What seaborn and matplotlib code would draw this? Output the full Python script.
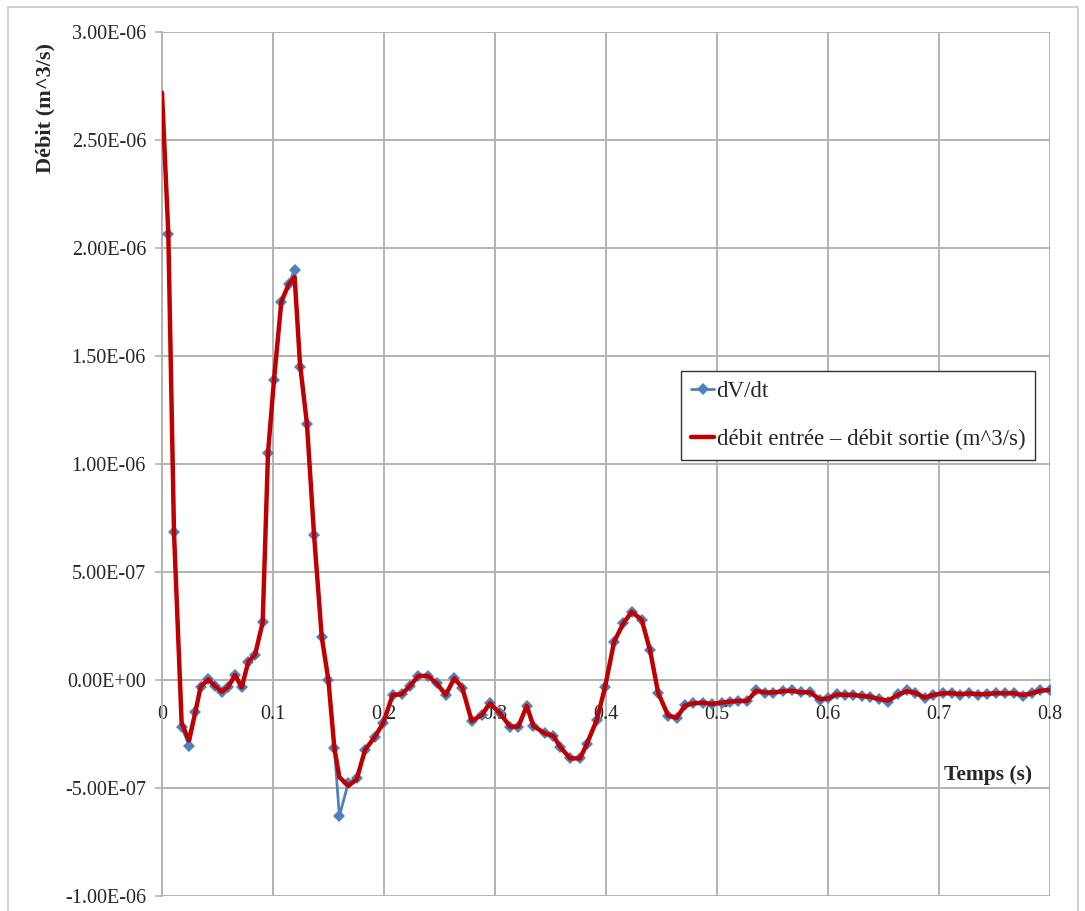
import numpy as np
import pandas as pd
import seaborn as sns
import matplotlib.pyplot as plt
from matplotlib.ticker import FuncFormatter, MultipleLocator
from matplotlib.patches import Rectangle

# dV/dt points (time in s, flow in 1e-6 m^3/s)
DVDT_TIME = [
    0.0057, 0.0108, 0.0177, 0.0243, 0.0300, 0.0348, 0.0417, 0.0478, 0.0538, 0.0598,
    0.0658, 0.0718, 0.0778, 0.0838, 0.0907, 0.0955, 0.1009, 0.1075, 0.1140, 0.1195,
    0.1243, 0.1306, 0.1370, 0.1439, 0.1499, 0.1553, 0.1598, 0.1679, 0.1754, 0.1829,
    0.1919, 0.1994, 0.2078, 0.2159, 0.2234, 0.2309, 0.2394, 0.2475, 0.2556, 0.2633,
    0.2705, 0.2790, 0.2880, 0.2955, 0.3045, 0.3136, 0.3210, 0.3286, 0.3346, 0.3450,
    0.3526, 0.3586, 0.3676, 0.3766, 0.3826, 0.3917, 0.3991, 0.4073, 0.4156, 0.4232,
    0.4322, 0.4397, 0.4470, 0.4560, 0.4637, 0.4712, 0.4787, 0.4877, 0.4952, 0.5042,
    0.5117, 0.5192, 0.5273, 0.5352, 0.5433, 0.5508, 0.5592, 0.5673, 0.5754, 0.5838,
    0.5928, 0.6003, 0.6078, 0.6153, 0.6228, 0.6303, 0.6378, 0.6462, 0.6543, 0.6633,
    0.6709, 0.6784, 0.6874, 0.6949, 0.7039, 0.7114, 0.7189, 0.7273, 0.7354, 0.7429,
    0.7513, 0.7594, 0.7675, 0.7753, 0.7834, 0.7910, 0.8000,
]
DVDT_FLOW = [
    2.066, 0.684, -0.216, -0.304, -0.150, -0.031, 0.003, -0.028, -0.054, -0.031,
    0.023, -0.034, 0.085, 0.116, 0.267, 1.051, 1.389, 1.751, 1.833, 1.900,
    1.449, 1.185, 0.671, 0.200, 0.000, -0.316, -0.630, -0.475, -0.455, -0.324,
    -0.262, -0.198, -0.069, -0.066, -0.028, 0.019, 0.019, -0.015, -0.069, 0.008,
    -0.035, -0.190, -0.162, -0.108, -0.154, -0.216, -0.216, -0.120, -0.213, -0.247,
    -0.259, -0.309, -0.363, -0.363, -0.298, -0.185, -0.034, 0.177, 0.262, 0.316,
    0.278, 0.137, -0.060, -0.165, -0.175, -0.118, -0.108, -0.105, -0.111, -0.105,
    -0.100, -0.097, -0.097, -0.046, -0.062, -0.062, -0.049, -0.046, -0.057, -0.057,
    -0.093, -0.085, -0.065, -0.069, -0.069, -0.074, -0.077, -0.089, -0.100, -0.065,
    -0.046, -0.059, -0.085, -0.069, -0.062, -0.059, -0.069, -0.059, -0.069, -0.065,
    -0.059, -0.062, -0.059, -0.074, -0.062, -0.046, -0.046,
]

# débit entrée - débit sortie (same sampling + t=0)
BALANCE_TIME = [0.0] + DVDT_TIME
BALANCE_FLOW = [
    2.720,
    2.066, 0.684, -0.200, -0.280, -0.150, -0.031, 0.003, -0.028, -0.054, -0.031,
    0.023, -0.034, 0.085, 0.116, 0.267, 1.051, 1.389, 1.751, 1.830, 1.865,
    1.465, 1.185, 0.671, 0.200, 0.000, -0.316, -0.450, -0.490, -0.460, -0.324,
    -0.262, -0.198, -0.069, -0.066, -0.028, 0.019, 0.019, -0.015, -0.069, 0.008,
    -0.035, -0.190, -0.162, -0.108, -0.154, -0.216, -0.216, -0.120, -0.213, -0.247,
    -0.259, -0.309, -0.363, -0.363, -0.298, -0.185, -0.034, 0.177, 0.262, 0.316,
    0.278, 0.137, -0.060, -0.165, -0.175, -0.118, -0.108, -0.105, -0.111, -0.105,
    -0.100, -0.097, -0.097, -0.050, -0.058, -0.058, -0.052, -0.050, -0.057, -0.057,
    -0.090, -0.085, -0.067, -0.069, -0.069, -0.074, -0.077, -0.089, -0.095, -0.068,
    -0.052, -0.059, -0.082, -0.069, -0.062, -0.061, -0.066, -0.062, -0.066, -0.065,
    -0.061, -0.062, -0.061, -0.070, -0.062, -0.050, -0.046,
]

LABEL_DVDT = "dV/dt"
LABEL_BALANCE = "débit entrée – débit sortie (m^3/s)"

BLUE = "#4f81bd"
RED = "#c00000"
GRID = "#b3b3b3"

sns.set_style("whitegrid")
plt.rcParams["font.family"] = ["Liberation Serif", "DejaVu Serif"]

dvdt = pd.DataFrame({"t": DVDT_TIME, "q": np.array(DVDT_FLOW) * 1e-6})
bal = pd.DataFrame({"t": BALANCE_TIME, "q": np.array(BALANCE_FLOW) * 1e-6})

fig = plt.figure(figsize=(10.85, 9.11), dpi=100)
ax = fig.add_axes([162 / 1085, 1 - 896 / 911, 888 / 1085, 864 / 911])

sns.lineplot(data=dvdt, x="t", y="q", ax=ax, sort=False, estimator=None,
             color=BLUE, linewidth=2, marker="D", markersize=6,
             markeredgewidth=0, label=LABEL_DVDT, zorder=3)
sns.lineplot(data=bal, x="t", y="q", ax=ax, sort=False, estimator=None,
             color=RED, linewidth=3.2, label=LABEL_BALANCE, zorder=4)

ax.set_xlim(0, 0.8)
ax.set_ylim(-1e-6, 3e-6)
ax.xaxis.set_major_locator(MultipleLocator(0.1))
ax.yaxis.set_major_locator(MultipleLocator(5e-7))
ax.xaxis.set_major_formatter(FuncFormatter(lambda v, p: "0" if abs(v) < 1e-9 else f"{v:.1f}"))
ax.yaxis.set_major_formatter(FuncFormatter(lambda v, p: f"{v:.2E}"))
ax.grid(True, color=GRID, linewidth=1.4)
ax.set_axisbelow(True)
ax.set_xlabel("")
ax.set_ylabel("")

for side in ["top", "right"]:
    ax.spines[side].set_visible(False)
ax.spines["left"].set_color(GRID)
ax.spines["left"].set_linewidth(1.4)
ax.spines["bottom"].set_position(("data", 0))
ax.spines["bottom"].set_color(GRID)
ax.spines["bottom"].set_linewidth(1.4)

ax.tick_params(axis="y", length=5, width=1.2, color=GRID, pad=6.5, labelsize=14.5, left=True)
ax.tick_params(axis="x", length=0, pad=18, labelsize=14.5)

ax.text(0.930, 0.140, "Temps (s)", transform=ax.transAxes, ha="center", va="center",
        fontsize=15.5, fontweight="bold")
fig.text(45 / 1085, 1 - 108 / 911, "Débit (m^3/s)", rotation=90, ha="center", va="center",
         fontsize=16, fontweight="bold")

leg = ax.legend(loc="upper left", bbox_to_anchor=((681 - 162) / 888, (896 - 371) / 864),
                fontsize=16.5, frameon=True, fancybox=False, framealpha=1,
                edgecolor="#333333", handlelength=1.0, handletextpad=0.1,
                labelspacing=1.15, borderpad=0.45, borderaxespad=0)
leg.get_frame().set_linewidth(1.0)

fig.patches.append(Rectangle((8 / 1085, -0.05), 1070 / 1085, 1.05 - 7 / 911,
                             transform=fig.transFigure, fill=False,
                             edgecolor="#c8c8c8", linewidth=1.2, clip_on=False))

fig.savefig("out.png", dpi=100)
